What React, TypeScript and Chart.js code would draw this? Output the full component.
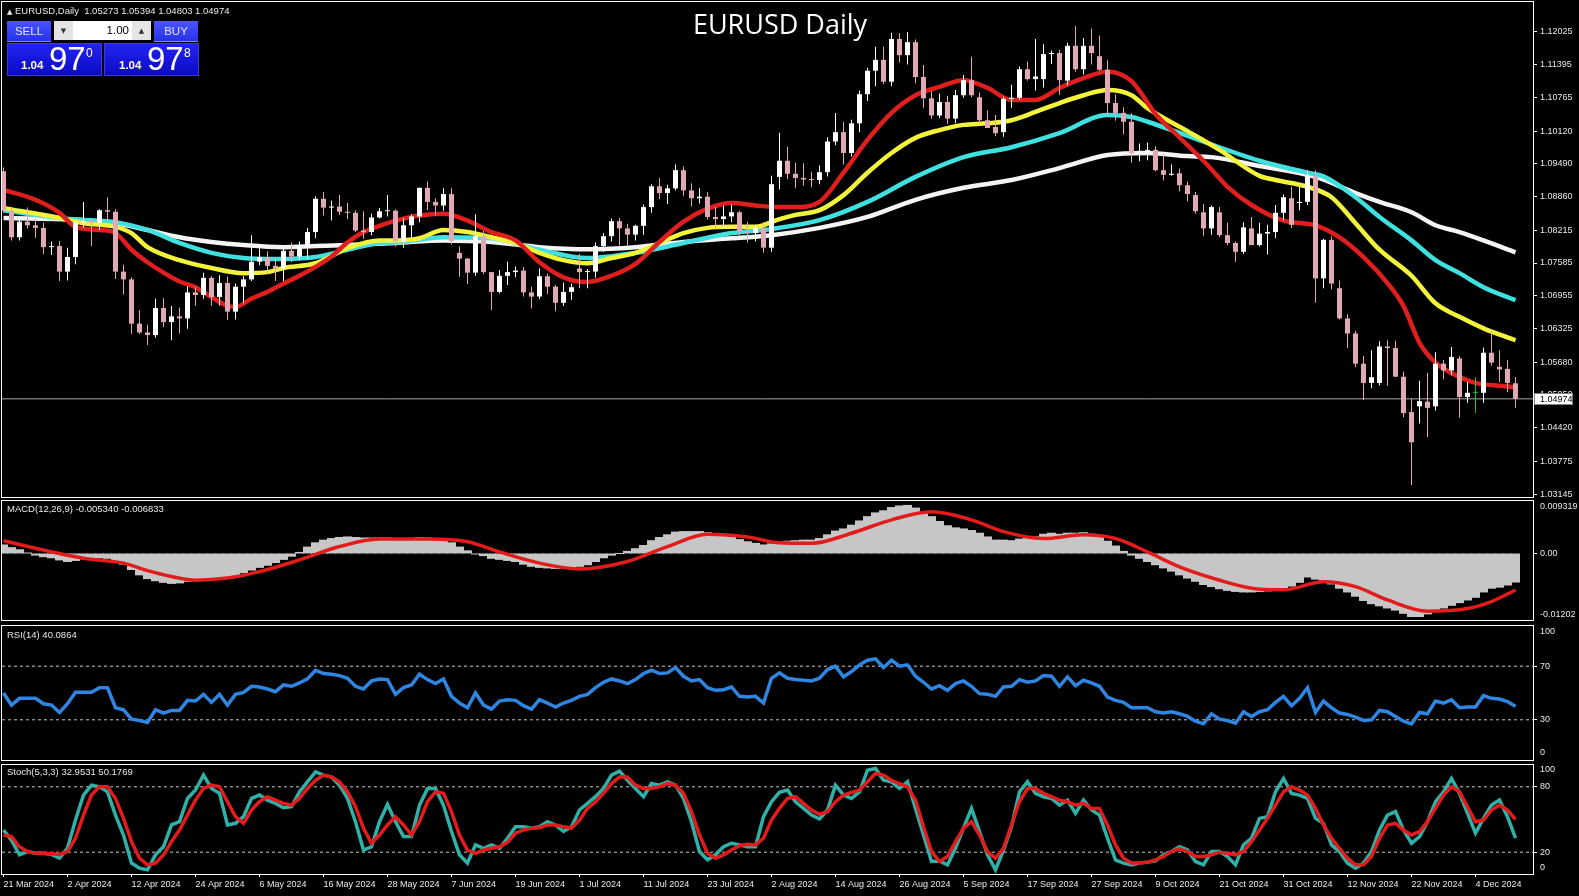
import React, { useEffect, useRef } from 'react';
import { Chart, registerables } from 'chart.js';

Chart.register(...registerables);

// ---------------- DATA ----------------
const opens = [1.0935,1.0859,1.0808,1.0838,1.0831,1.0826,1.0789,1.0791,1.0742,1.0770,
1.0836,1.0838,1.0836,1.0860,1.0857,1.0742,1.0727,1.0642,1.0625,1.0620,
1.0672,1.0645,1.0656,1.0652,1.0702,1.0697,1.0730,1.0693,1.0720,1.0665,
1.0713,1.0727,1.0761,1.0770,1.0753,1.0748,1.0782,1.0771,1.0790,1.0818,
1.0882,1.0865,1.0867,1.0857,1.0855,1.0821,1.0818,1.0846,1.0858,1.0859,
1.0801,1.0831,1.0848,1.0903,1.0876,1.0869,1.0891,1.0778,1.0767,1.0740,
1.0810,1.0741,1.0703,1.0734,1.0741,1.0744,1.0702,1.0694,1.0733,1.0713,
1.0682,1.0703,1.0748,1.0741,1.0742,1.0791,1.0810,1.0839,1.0825,1.0813,
1.0830,1.0866,1.0906,1.0893,1.0902,1.0937,1.0898,1.0883,1.0886,1.0847,
1.0843,1.0848,1.0856,1.0819,1.0816,1.0826,1.0788,1.0924,1.0955,1.0930,
1.0922,1.0919,1.0918,1.0933,1.0992,1.1010,1.0970,1.1027,1.1083,1.1128,
1.1149,1.1107,1.1189,1.1158,1.1183,1.1116,1.1075,1.1042,1.1068,1.1036,
1.1081,1.1110,1.1077,1.1033,1.1020,1.1010,1.1074,1.1076,1.1131,1.1112,
1.1112,1.1160,1.1162,1.1109,1.1176,1.1131,1.1176,1.1156,1.1130,1.1066,
1.1047,1.1030,1.0970,1.0974,1.0976,1.0937,1.0928,1.0931,1.0908,1.0889,
1.0856,1.0825,1.0856,1.0812,1.0797,1.0780,1.0825,1.0793,1.0815,1.0818,
1.0855,1.0883,1.0874,1.0876,1.0925,1.0729,1.0803,1.0710,1.0652,1.0623,
1.0565,1.0528,1.0528,1.0598,1.0595,1.0540,1.0472,1.0483,1.0492,1.0483,
1.0565,1.0552,1.0575,1.0501,1.0509,1.0509,1.0586,1.0559,1.0555,1.05273];

const highs = [1.0942,1.0866,1.0843,1.0865,1.0843,1.0836,1.0800,1.0801,1.0788,1.0840,
1.0876,1.0843,1.0862,1.0885,1.0862,1.0755,1.0731,1.0668,1.0640,1.0690,
1.0691,1.0676,1.0673,1.0714,1.0713,1.0740,1.0733,1.0735,1.0732,1.0719,
1.0733,1.0812,1.0791,1.0781,1.0768,1.0790,1.0798,1.0800,1.0826,1.0887,
1.0895,1.0878,1.0889,1.0874,1.0860,1.0858,1.0853,1.0864,1.0889,1.0862,
1.0845,1.0852,1.0903,1.0915,1.0883,1.0902,1.0902,1.0790,1.0768,1.0852,
1.0820,1.0741,1.0745,1.0761,1.0752,1.0751,1.0713,1.0748,1.0738,1.0716,
1.0721,1.0719,1.0776,1.0747,1.0798,1.0816,1.0844,1.0845,1.0834,1.0832,
1.0871,1.0910,1.0922,1.0909,1.0948,1.0944,1.0912,1.0902,1.0895,1.0866,
1.0869,1.0871,1.0859,1.0838,1.0832,1.0837,1.0926,1.1009,1.0982,1.0951,
1.0950,1.0934,1.0946,1.1000,1.1047,1.1030,1.1034,1.1090,1.1134,1.1174,
1.1174,1.1201,1.1200,1.1202,1.1188,1.1139,1.1089,1.1084,1.1080,1.1091,
1.1120,1.1155,1.1086,1.1052,1.1043,1.1078,1.1101,1.1136,1.1146,1.1189,
1.1179,1.1167,1.1168,1.1182,1.1214,1.1191,1.1209,1.1196,1.1148,1.1083,
1.1058,1.1047,1.0988,1.0990,1.0983,1.0968,1.0948,1.0940,1.0915,1.0895,
1.0872,1.0869,1.0866,1.0836,1.0800,1.0837,1.0847,1.0836,1.0832,1.0870,
1.0890,1.0905,1.0905,1.0937,1.0937,1.0805,1.0810,1.0725,1.0660,1.0628,
1.0580,1.0591,1.0608,1.0610,1.0609,1.0550,1.0497,1.0532,1.0547,1.0587,
1.0572,1.0597,1.0580,1.0530,1.0539,1.0596,1.0630,1.0591,1.0572,1.05394];

const lows = [1.0855,1.0802,1.0802,1.0825,1.0807,1.0776,1.0774,1.0724,1.0725,1.0756,
1.0826,1.0791,1.0822,1.0837,1.0728,1.0698,1.0622,1.0622,1.0601,1.0615,
1.0635,1.0610,1.0623,1.0632,1.0676,1.0690,1.0676,1.0677,1.0649,1.0650,
1.0681,1.0724,1.0754,1.0738,1.0724,1.0724,1.0760,1.0764,1.0767,1.0806,
1.0850,1.0840,1.0851,1.0843,1.0818,1.0805,1.0812,1.0844,1.0848,1.0790,
1.0788,1.0805,1.0837,1.0860,1.0850,1.0859,1.0794,1.0732,1.0718,1.0734,
1.0737,1.0668,1.0700,1.0716,1.0731,1.0694,1.0671,1.0689,1.0699,1.0666,
1.0676,1.0688,1.0710,1.0710,1.0730,1.0780,1.0800,1.0792,1.0792,1.0802,
1.0813,1.0855,1.0881,1.0872,1.0898,1.0888,1.0867,1.0873,1.0842,1.0825,
1.0825,1.0837,1.0811,1.0798,1.0800,1.0778,1.0780,1.0900,1.0920,1.0902,
1.0907,1.0904,1.0910,1.0925,1.0985,1.0948,1.0963,1.1010,1.1070,1.1098,
1.1102,1.1098,1.1144,1.1140,1.1104,1.1057,1.1036,1.1037,1.1026,1.1027,
1.1076,1.1077,1.1026,1.1018,1.1002,1.1001,1.1057,1.1072,1.1109,1.1090,
1.1096,1.1141,1.1082,1.1100,1.1126,1.1121,1.1140,1.1128,1.1040,1.1032,
1.1006,1.0951,1.0954,1.0956,1.0935,1.0917,1.0926,1.0896,1.0877,1.0853,
1.0811,1.0813,1.0808,1.0792,1.0761,1.0776,1.0795,1.0790,1.0775,1.0806,
1.0840,1.0826,1.0860,1.0870,1.0682,1.0710,1.0708,1.0650,1.0595,1.0558,
1.0495,1.0518,1.0523,1.0522,1.0540,1.0462,1.0332,1.0450,1.0424,1.0475,
1.0535,1.0543,1.0461,1.0490,1.0470,1.0490,1.0561,1.0530,1.0510,1.04803];

const closes = [1.0859,1.0808,1.0838,1.0831,1.0826,1.0789,1.0791,1.0742,1.0770,1.0836,
1.0838,1.0836,1.0860,1.0857,1.0742,1.0727,1.0642,1.0625,1.0620,1.0672,
1.0645,1.0656,1.0652,1.0702,1.0697,1.0730,1.0693,1.0720,1.0665,1.0713,
1.0727,1.0761,1.0770,1.0753,1.0748,1.0782,1.0771,1.0790,1.0818,1.0882,
1.0865,1.0867,1.0857,1.0855,1.0821,1.0818,1.0846,1.0858,1.0859,1.0801,
1.0831,1.0848,1.0903,1.0876,1.0869,1.0891,1.0801,1.0767,1.0740,1.0810,
1.0741,1.0703,1.0734,1.0741,1.0744,1.0702,1.0694,1.0733,1.0713,1.0682,
1.0703,1.0712,1.0741,1.0742,1.0791,1.0810,1.0839,1.0825,1.0813,1.0830,
1.0866,1.0906,1.0893,1.0902,1.0937,1.0898,1.0883,1.0886,1.0847,1.0843,
1.0848,1.0856,1.0819,1.0816,1.0826,1.0788,1.0910,1.0955,1.0930,1.0922,
1.0919,1.0918,1.0933,1.0992,1.1010,1.0970,1.1027,1.1083,1.1128,1.1149,
1.1107,1.1189,1.1158,1.1183,1.1116,1.1075,1.1042,1.1068,1.1036,1.1081,
1.1110,1.1081,1.1033,1.1018,1.1008,1.1074,1.1076,1.1131,1.1112,1.1117,
1.1160,1.1162,1.1110,1.1176,1.1131,1.1176,1.1162,1.1130,1.1066,1.1047,
1.1030,1.0970,1.0974,1.0976,1.0937,1.0928,1.0930,1.0908,1.0891,1.0858,
1.0825,1.0866,1.0812,1.0797,1.0780,1.0827,1.0793,1.0815,1.0818,1.0855,
1.0885,1.0832,1.0876,1.0925,1.0729,1.0803,1.0719,1.0652,1.0623,1.0565,
1.0528,1.0539,1.0598,1.0595,1.0540,1.0470,1.0414,1.0493,1.0480,1.0565,
1.0552,1.0578,1.0501,1.0509,1.0509,1.0586,1.0567,1.0554,1.0528,1.04974];

const xTickIdx = [0,8,16,24,32,40,48,56,64,72,80,88,96,104,112,120,128,136,144,152,160,168,176,184];
const xTickLabels = ['21 Mar 2024','2 Apr 2024','12 Apr 2024','24 Apr 2024','6 May 2024','16 May 2024',
'28 May 2024','7 Jun 2024','19 Jun 2024','1 Jul 2024','11 Jul 2024','23 Jul 2024','2 Aug 2024',
'14 Aug 2024','26 Aug 2024','5 Sep 2024','17 Sep 2024','27 Sep 2024','9 Oct 2024','21 Oct 2024',
'31 Oct 2024','12 Nov 2024','22 Nov 2024','4 Dec 2024'];

const priceTicks = [1.12025,1.11395,1.10765,1.10120,1.09490,1.08860,1.08215,1.07585,1.06955,1.06325,1.05680,1.05050,1.04420,1.03775,1.03145];

const maRedIdx = [0,4,7,9,12,14,16,18,20,22,24,26,28,29,31,33,35,37,39,41,43,45,47,49,52,55,58,61,64,67,70,73,76,79,82,85,88,91,94,97,99,102,105,108,111,114,117,120,123,126,129,132,135,138,141,144,147,150,153,156,160,164,167,170,173,175,177,179,181,184,186,189];
const maRed = [1.0899,1.0880,1.0855,1.0828,1.0822,1.0816,1.0784,1.0760,1.0740,1.0723,1.0712,1.0693,1.0676,1.0674,1.0690,1.0703,1.0719,1.0734,1.0751,1.0771,1.0798,1.0818,1.0830,1.0840,1.0850,1.0853,1.0840,1.0818,1.0802,1.0760,1.0731,1.0722,1.0734,1.0757,1.0799,1.0838,1.0863,1.0874,1.0869,1.0866,1.0866,1.0876,1.0932,1.0995,1.1047,1.1081,1.1097,1.1110,1.1095,1.1072,1.1072,1.1095,1.1114,1.1126,1.1108,1.1045,1.1000,1.0955,1.0905,1.0870,1.0840,1.0831,1.0808,1.0770,1.0720,1.0676,1.0605,1.0567,1.0547,1.0528,1.0524,1.0520];

const maYellowIdx = [0,7,10,14,16,18,22,26,30,33,35,39,43,47,49,52,55,58,61,64,67,70,73,76,79,82,85,88,91,94,97,99,102,105,108,111,114,117,120,123,126,129,132,135,138,141,143,148,152,157,159,163,166,169,172,176,179,182,185,189];
const maYellow = [1.0864,1.0845,1.0835,1.0828,1.0816,1.0789,1.0764,1.0749,1.0739,1.0741,1.0749,1.0758,1.0787,1.0802,1.0802,1.0806,1.0822,1.0818,1.0808,1.0797,1.0778,1.0764,1.0758,1.0768,1.0778,1.0797,1.0816,1.0826,1.0828,1.0828,1.0843,1.0851,1.0860,1.0889,1.0932,1.0970,1.0999,1.1014,1.1024,1.1027,1.1033,1.1049,1.1066,1.1081,1.1091,1.1081,1.1056,1.1012,1.0976,1.0926,1.0918,1.0905,1.0885,1.0835,1.0784,1.0734,1.0681,1.0655,1.0633,1.0610];

const maCyanIdx = [0,7,10,14,18,22,26,30,34,39,43,47,49,55,61,67,73,79,85,91,96,102,108,114,120,126,132,138,141,143,148,157,163,165,169,172,176,179,182,185,189];
const maCyan = [1.0860,1.0845,1.0841,1.0837,1.0822,1.0797,1.0778,1.0768,1.0766,1.0770,1.0784,1.0797,1.0798,1.0808,1.0806,1.0784,1.0768,1.0778,1.0797,1.0816,1.0824,1.0841,1.0876,1.0924,1.0962,1.0981,1.1008,1.1043,1.1039,1.1030,1.1003,1.0955,1.0932,1.0925,1.0885,1.0847,1.0802,1.0764,1.0739,1.0712,1.0687];

const maWhiteIdx = [0,10,14,18,22,26,30,35,39,43,49,55,61,67,73,79,85,91,96,102,108,114,120,126,132,138,143,148,151,157,164,169,172,176,179,182,185,189];
const maWhite = [1.0845,1.0841,1.0835,1.0822,1.0808,1.0799,1.0793,1.0789,1.0791,1.0793,1.0797,1.0802,1.0799,1.0789,1.0785,1.0789,1.0799,1.0806,1.0812,1.0826,1.0847,1.0880,1.0903,1.0918,1.0941,1.0966,1.0970,1.0964,1.0962,1.0945,1.0924,1.0893,1.0876,1.0856,1.0831,1.0818,1.0802,1.0779];

const macdMain = [0.0016,0.0011,0.0007,0.0001,-0.0003,-0.0006,-0.0008,-0.0012,-0.0015,-0.0013,
-0.0010,-0.0009,-0.0008,-0.0009,-0.0014,-0.0020,-0.0030,-0.0040,-0.0047,-0.0051,
-0.0054,-0.0056,-0.0055,-0.0052,-0.0050,-0.0048,-0.0048,-0.0046,-0.0046,-0.0041,
-0.0036,-0.0031,-0.0026,-0.0022,-0.0017,-0.0011,-0.0005,0.0002,0.0012,0.0020,
0.0025,0.0028,0.0030,0.0031,0.0030,0.0029,0.0029,0.0029,0.0029,0.0026,
0.0026,0.0028,0.0030,0.0029,0.0028,0.0027,0.0020,0.0012,0.0005,-0.0001,
-0.0004,-0.0009,-0.0011,-0.0013,-0.0015,-0.0020,-0.0024,-0.0026,-0.0027,-0.0028,
-0.0027,-0.0026,-0.0024,-0.0021,-0.0015,-0.0008,-0.0003,0.0000,0.0004,0.0009,
0.0015,0.0024,0.0030,0.0035,0.0040,0.0041,0.0041,0.0041,0.0039,0.0036,
0.0033,0.0030,0.0026,0.0022,0.0019,0.0016,0.0018,0.0022,0.0023,0.0024,
0.0025,0.0025,0.0028,0.0035,0.0042,0.0046,0.0053,0.0061,0.0069,0.0076,
0.0080,0.0086,0.0089,0.0090,0.0085,0.0078,0.0069,0.0060,0.0052,0.0048,
0.0046,0.0043,0.0038,0.0031,0.0025,0.0025,0.0024,0.0027,0.0029,0.0031,
0.0036,0.0038,0.0036,0.0038,0.0038,0.0039,0.0036,0.0030,0.0023,0.0014,
0.0004,-0.0003,-0.0009,-0.0015,-0.0021,-0.0027,-0.0033,-0.0040,-0.0046,-0.0052,
-0.0058,-0.0062,-0.0066,-0.0069,-0.0071,-0.0072,-0.0072,-0.0071,-0.0070,-0.0068,
-0.0064,-0.0061,-0.0054,-0.0044,-0.0048,-0.0051,-0.0057,-0.0065,-0.0072,-0.0080,
-0.0088,-0.0094,-0.0098,-0.0102,-0.0106,-0.0112,-0.0118,-0.0118,-0.0113,-0.0106,
-0.0102,-0.0097,-0.0092,-0.0087,-0.0082,-0.0072,-0.0065,-0.0063,-0.0059,-0.00534];

const macdSignalIdx = [0,6,10,15,18,21,24,28,32,37,42,47,53,58,62,67,72,78,83,88,93,97,101,106,111,116,121,125,130,135,139,143,147,152,156,160,165,169,173,178,183,186,189];
const macdSignal = [0.0024,0.0003,-0.0009,-0.0018,-0.0032,-0.0043,-0.0050,-0.0046,-0.0034,-0.0012,0.0013,0.0027,0.0027,0.0022,0.0003,-0.0018,-0.0029,-0.0015,0.0013,0.0036,0.0031,0.0020,0.0019,0.0038,0.0063,0.0078,0.0063,0.0041,0.0028,0.0035,0.0028,0.0003,-0.0025,-0.0050,-0.0065,-0.0068,-0.0053,-0.0062,-0.0087,-0.0108,-0.0103,-0.0090,-0.006833];

const rsi = [50,41,46,46,46,42,41,35.5,42,50.5,
50.5,50.5,54,54,39,37.5,30.5,29.5,28,37.5,
35,37,37,44.5,44,49,43,49,41,49,
50.5,55,54.5,53,51,56,55,57.5,60.5,67,
64.5,64,63,61,55,53,59,60.5,60,49,
54,56,64,60,57,60.5,47.5,42.5,39,50,
41,38,44,45,44.5,40.5,38,45,42.5,39.5,
42.5,44.5,47.5,49,54,58,60.5,59,57,60,
64.5,67,64.5,65,69,62.5,59,60,54,52,
52.5,54.5,47.5,47,47.5,42.5,61,65,61,60,
59.5,59,61,67.5,70,62,66,71,74.5,75.5,
69,74.5,70,71,62.5,58,53,55.5,52,57,
59,55,49.5,49,47.5,54.5,55,60,58,59,
63,62.5,55,62,55.5,59.5,57.5,55,47,44.5,
43,39,39,39,36,35,36,34.5,32.5,29,
27,34.5,30.5,29.5,27.5,36,32.5,36,37.5,43,
47.5,40.5,46,54,35.5,44,39,35,34,32,
29.5,30,37,36,32.5,29,27,35.5,34.5,44,
42.5,45,39,39.5,39.5,48,46,45.5,43.5,40.0864];

const stochK = [40.4,31,17.6,20.6,19,19,18,14.5,23.6,49.5,
72.4,81.5,80,75.4,54,35.8,10,5.4,3.8,17.6,
25,45,48,69.3,77,90.7,78.5,74,45,46.5,
52.6,69.3,72.4,67.8,64.8,60.8,61.7,75.4,84.6,93.7,
90.7,89,81.5,69.3,48,22,25,48,63.9,48,
34.3,34.3,63,78.5,78.5,63,39,17.6,10,26.7,
23.6,26.7,23.6,32.8,43.4,43.4,42,43.4,48,45,
39,43.4,58.7,64.8,70.9,78.5,90.7,94.3,86,78.5,
70.9,83,81.5,84.6,81.5,69.3,48,20.6,13,17.6,
25,28.2,26.7,25,25,52.6,66.3,75,77,66.3,
60.2,54,50.5,58.7,81.5,72.4,69.3,75.4,95.2,96.8,
86,84.6,78.5,84.6,60.2,35.8,11.5,12,8.4,23.6,
42,60.2,39,17.6,3.8,22,43.4,75.4,84.6,74,
70.9,69.3,63.2,67.8,55.6,67.8,58.7,54,32.8,13,
10,8.4,10,10.9,12,17.6,20.6,25,22,11.5,
8.4,20.6,20.6,16,8.4,26.7,32.8,51,52.6,75.4,
87.6,74,72.4,69.3,51,46.5,26.7,20.6,10,5.4,
10,20.6,40.4,54,57.2,40.4,28.2,34.3,48,66.3,
75.4,87.6,74,55.6,37.4,51,63.2,67.8,52.6,32.9531];

const stochD = [35.8,34.3,25,20.6,19,18.8,18.5,18,20.6,32.8,
54,72.4,80,80,69.3,51,29.7,14.5,8.4,10,
17.6,29.7,40.4,54,67.8,78.5,81.5,80,66.3,52.6,
46.5,58.7,66.3,70.9,67.8,64.8,63.2,69.3,78.5,86,
90.7,89,84.6,75.4,61.7,42,28.2,35.8,45,52.6,
45,35.8,48,66.3,75.4,74,57.2,35.8,22,19,
22,23.6,25,29,37.4,40.4,42,42.5,45,45,
43.4,42,49.5,60.2,66.3,74,83,89,89,81.5,
78.5,78.5,80,83,81.5,74,57.2,35.8,19,14.5,
17.6,22,26,27.3,26.7,32.8,49.5,60.2,69.3,70.9,
64.8,58.7,54.7,57.2,66.3,72.4,74.8,77,84.6,92.2,
90.7,86,83,80,67.8,43.4,20.6,11.5,16,29.7,
42,48,35.8,20.6,14.5,23.6,45,66.3,78.5,78.5,
74,70.9,67.8,66.3,63.2,64.8,60.2,60.2,45,26.7,
14.5,10,10,10.9,13,16,20.6,23,20.6,16,
16,17.6,20,19,17.6,20.6,29.7,40.4,51,63.2,
75.4,80,77,72.4,60.2,45,32.8,23.6,14.5,8.4,
8.4,16,32.8,45,46.5,40.4,35.8,38.9,48,60.2,
72.4,80,75.4,61.7,48,49.5,58.7,63.2,58.7,50.1769];

const rsiLevels = [70, 30];
const stochLevels = [80, 20];

// ---------------- STYLE ----------------
const TEXT = '#e8e8e8';
const FONT = 'Liberation Sans';
const BULL = '#ffffff';
const BEAR = '#dfaab5';
const DOJI = '#22c022';
const X_MIN = -0.1875;
const X_MAX = 191.1875;
const AXIS_W = 46;

const pts = (idx: number[], vals: number[]) => idx.map((x, k) => ({ x, y: vals[k] }));
const seq = (vals: number[]) => vals.map((y, x) => ({ x, y }));
const hline = (v: number) => [{ x: X_MIN, y: v }, { x: X_MAX, y: v }];

const candleColors = closes.map((c, i) => (c > opens[i] ? BULL : c < opens[i] ? BEAR : DOJI));

const framePlugin = {
  id: 'frame',
  afterDraw(chart: any) {
    const { ctx, chartArea: a } = chart;
    ctx.save();
    ctx.strokeStyle = '#ffffff';
    ctx.lineWidth = 1;
    ctx.strokeRect(Math.round(a.left) - 0.5, Math.round(a.top) - 0.5, Math.round(a.right - a.left) + 1, Math.round(a.bottom - a.top) + 1);
    ctx.restore();
  },
};

const edgeLabels = {
  id: 'edgeLabels',
  afterDraw(chart: any, _args: any, opts: any) {
    if (!opts || !opts.top) return;
    const { ctx, chartArea: a } = chart;
    ctx.save();
    ctx.font = `9px "${FONT}"`;
    ctx.fillStyle = TEXT;
    ctx.textAlign = 'left';
    ctx.textBaseline = 'middle';
    ctx.fillText(opts.top, a.right + 7, a.top + opts.dTop);
    ctx.fillText(opts.bottom, a.right + 7, a.bottom - opts.dBottom);
    ctx.restore();
  },
};

const priceTag = {
  id: 'priceTag',
  afterDraw(chart: any, _args: any, opts: any) {
    if (!opts || opts.value === undefined) return;
    const { ctx, chartArea: a } = chart;
    const y = Math.round(chart.scales.y.getPixelForValue(opts.value));
    ctx.save();
    ctx.fillStyle = '#ffffff';
    ctx.fillRect(a.right + 1, y - 5, 39, 11);
    ctx.strokeStyle = '#808080';
    ctx.lineWidth = 1;
    ctx.strokeRect(a.right + 1.5, y - 5.5, 38, 11);
    ctx.fillStyle = '#000000';
    ctx.font = `9px "${FONT}"`;
    ctx.textAlign = 'left';
    ctx.textBaseline = 'middle';
    ctx.fillText(opts.label, a.right + 7, y + 0.5);
    ctx.restore();
  },
};

const xScale = (show: boolean) => ({
  type: 'linear',
  min: X_MIN,
  max: X_MAX,
  offset: false,
  bounds: 'ticks',
  display: show,
  afterBuildTicks: (s: any) => { s.ticks = xTickIdx.map((value) => ({ value })); },
  afterFit: (s: any) => { if (show) { s.height = 22; } s.paddingLeft = 0; s.paddingRight = 0; },
  ticks: {
    callback: (v: any) => { const k = xTickIdx.indexOf(Number(v)); return k >= 0 ? xTickLabels[k] : ''; },
    align: 'start', maxRotation: 0, minRotation: 0, autoSkip: false,
    color: TEXT, font: { family: FONT, size: 9 }, padding: 2,
  },
  grid: { offset: false, drawOnChartArea: false, drawTicks: true, tickLength: 3, tickColor: '#ffffff', color: '#ffffff' },
  border: { display: false },
});

const yScale = (min: number, max: number, ticks: number[], fmt: (v: number) => string) => ({
  type: 'linear',
  position: 'right',
  min, max,
  afterBuildTicks: (s: any) => { s.ticks = ticks.map((value) => ({ value })); },
  afterFit: (s: any) => { s.width = AXIS_W; s.paddingTop = 0; s.paddingBottom = 0; },
  ticks: { callback: (v: any) => fmt(Number(v)), color: TEXT, font: { family: FONT, size: 9 }, padding: 3, autoSkip: false },
  grid: { drawOnChartArea: false, drawTicks: true, tickLength: 4, tickColor: '#ffffff', color: '#ffffff' },
  border: { display: false },
});

const baseOptions = (top: number, bottom: number, y: any, showX: boolean, plugins: any) => ({
  responsive: false,
  animation: false,
  devicePixelRatio: 1,
  events: [],
  layout: { padding: { left: 2, right: 0, top, bottom } },
  plugins: { legend: { display: false }, tooltip: { enabled: false }, title: { display: false }, ...plugins },
  scales: { x: xScale(showX), y },
});

const lineDs = (data: any[], color: string, width: number, order: number, extra: any = {}) => ({
  type: 'line', data, borderColor: color, backgroundColor: color, borderWidth: width,
  pointRadius: 0, fill: false, order, clip: 0, ...extra,
});

function mainConfig(): any {
  const last = closes[closes.length - 1];
  return {
    type: 'bar',
    data: {
      datasets: [
        lineDs(hline(last), '#a8a8a8', 1, 9, { tension: 0 }),
        lineDs(pts(maWhiteIdx, maWhite), '#f4f4f4', 4.5, 8, { cubicInterpolationMode: 'monotone' }),
        lineDs(pts(maCyanIdx, maCyan), '#3fe0e0', 4.5, 7, { cubicInterpolationMode: 'monotone' }),
        lineDs(pts(maYellowIdx, maYellow), '#f3f33a', 4.5, 6, { cubicInterpolationMode: 'monotone' }),
        lineDs(pts(maRedIdx, maRed), '#e01e1e', 4.5, 5, { cubicInterpolationMode: 'monotone' }),
        {
          type: 'bar', data: lows.map((l, i) => ({ x: i, y: [l, highs[i]] })),
          backgroundColor: candleColors, barThickness: 1, grouped: false, minBarLength: 1,
          borderWidth: 0, inflateAmount: 0, order: 1,
        },
        {
          type: 'bar', data: opens.map((o, i) => ({ x: i, y: [o, closes[i]] })),
          backgroundColor: candleColors, barThickness: 5, grouped: false, minBarLength: 1,
          borderWidth: 0, inflateAmount: 0, order: 0,
        },
      ],
    },
    options: baseOptions(2, 2, yScale(1.030877, 1.126016, priceTicks, (v) => v.toFixed(5)), false, {
      priceTag: { value: last, label: last.toFixed(5) },
    }),
    plugins: [framePlugin, priceTag],
  };
}

function macdConfig(): any {
  return {
    type: 'bar',
    data: {
      datasets: [
        lineDs(pts(macdSignalIdx, macdSignal), '#e41b1b', 3.5, 0, { cubicInterpolationMode: 'monotone' }),
        {
          type: 'bar', data: seq(macdMain), backgroundColor: '#c6c6c6', barThickness: 8,
          grouped: false, borderWidth: 0, inflateAmount: 0.5, order: 1,
        },
      ],
    },
    options: baseOptions(2, 3, yScale(-0.01245, 0.00983, [0], () => '0.00'), false, {
      edgeLabels: { top: '0.009319', bottom: '-0.01202', dTop: 6, dBottom: 5 },
    }),
    plugins: [framePlugin, edgeLabels],
  };
}

function rsiConfig(): any {
  return {
    type: 'line',
    data: {
      datasets: [
        ...rsiLevels.map((v) => lineDs(hline(v), '#c8c8c8', 1, 5, { borderDash: [3, 3] })),
        lineDs(seq(rsi), '#2f86e2', 3.5, 0, { tension: 0 }),
      ],
    },
    options: baseOptions(3, 2, yScale(0, 100, rsiLevels, (v) => String(v)), false, {
      edgeLabels: { top: '100', bottom: '0', dTop: 6, dBottom: 7 },
    }),
    plugins: [framePlugin, edgeLabels],
  };
}

function stochConfig(): any {
  return {
    type: 'line',
    data: {
      datasets: [
        ...stochLevels.map((v) => lineDs(hline(v), '#c8c8c8', 1, 5, { borderDash: [3, 3] })),
        lineDs(seq(stochK), '#2fb1a8', 3.5, 1, { tension: 0 }),
        lineDs(seq(stochD), '#e41b1b', 3.5, 0, { tension: 0 }),
      ],
    },
    options: baseOptions(3, 0, yScale(0, 100, stochLevels, (v) => String(v)), true, {
      edgeLabels: { top: '100', bottom: '0', dTop: 5, dBottom: 6 },
    }),
    plugins: [framePlugin, edgeLabels],
  };
}

const labelStyle: React.CSSProperties = {
  position: 'absolute', left: 7, color: TEXT, fontSize: 9.5, fontFamily: `"${FONT}", Arial, sans-serif`,
  lineHeight: '11px', whiteSpace: 'pre',
};

export default function App() {
  const mainRef = useRef<HTMLCanvasElement>(null);
  const macdRef = useRef<HTMLCanvasElement>(null);
  const rsiRef = useRef<HTMLCanvasElement>(null);
  const stochRef = useRef<HTMLCanvasElement>(null);

  useEffect(() => {
    document.body.style.margin = '0';
    document.body.style.background = '#000';
    const charts: Chart[] = [];
    if (mainRef.current) charts.push(new Chart(mainRef.current, mainConfig()));
    if (macdRef.current) charts.push(new Chart(macdRef.current, macdConfig()));
    if (rsiRef.current) charts.push(new Chart(rsiRef.current, rsiConfig()));
    if (stochRef.current) charts.push(new Chart(stochRef.current, stochConfig()));
    return () => charts.forEach((c) => c.destroy());
  }, []);

  const cv = (top: number, h: number): React.CSSProperties => ({ position: 'absolute', left: 0, top, width: 1579, height: h });
  const blueBtn: React.CSSProperties = {
    position: 'absolute', top: 21, height: 21, background: 'linear-gradient(#4a55ff, #2630e8)',
    color: '#dfe4ff', fontSize: 11.5, fontFamily: `"${FONT}", Arial, sans-serif`, display: 'flex',
    alignItems: 'center', justifyContent: 'center', borderBottom: '1px solid #7f88ff', boxSizing: 'border-box',
  };
  const priceBox: React.CSSProperties = {
    position: 'absolute', top: 43, width: 95, height: 33,
    background: 'linear-gradient(#2323f2, #0b0bc4)', boxSizing: 'border-box', border: '1px solid #3b3bd8',
    color: '#ffffff', fontFamily: `"${FONT}", Arial, sans-serif`,
  };

  return (
    <div style={{ position: 'relative', width: 1579, height: 896, background: '#000', overflow: 'hidden' }}>
      <canvas ref={mainRef} width={1579} height={499} style={cv(0, 499)} />
      <canvas ref={macdRef} width={1579} height={124} style={cv(499, 124)} />
      <canvas ref={rsiRef} width={1579} height={139} style={cv(623, 139)} />
      <canvas ref={stochRef} width={1579} height={134} style={cv(762, 134)} />

      <div style={{ ...labelStyle, top: 5 }}>
        <span style={{ fontSize: 7, fontFamily: '"DejaVu Sans", sans-serif' }}>▲</span>
        {' EURUSD,Daily  1.05273 1.05394 1.04803 1.04974'}
      </div>
      <div style={{
        position: 'absolute', left: 0, width: 1560, top: 8, textAlign: 'center', color: '#ffffff',
        fontSize: 27, fontFamily: '"Open Sans", sans-serif', lineHeight: '32px',
      }}>EURUSD Daily</div>

      <div style={{ ...blueBtn, left: 7, width: 44 }}>SELL</div>
      <div style={{ ...blueBtn, left: 154, width: 44 }}>BUY</div>
      <div style={{ position: 'absolute', left: 54, top: 21, width: 19, height: 19, background: '#e4e4e4', color: '#333', fontSize: 7, display: 'flex', alignItems: 'center', justifyContent: 'center', fontFamily: '"DejaVu Sans", sans-serif' }}>▼</div>
      <div style={{ position: 'absolute', left: 73, top: 21, width: 59, height: 19, background: '#ffffff', color: '#000', fontSize: 11.5, textAlign: 'right', lineHeight: '19px', paddingRight: 3, boxSizing: 'border-box', fontFamily: `"${FONT}", Arial, sans-serif` }}>1.00</div>
      <div style={{ position: 'absolute', left: 132, top: 21, width: 19, height: 19, background: '#e4e4e4', color: '#333', fontSize: 7, display: 'flex', alignItems: 'center', justifyContent: 'center', fontFamily: '"DejaVu Sans", sans-serif' }}>▲</div>

      <div style={{ ...priceBox, left: 7 }}>
        <span style={{ position: 'absolute', left: 13, top: 15, fontSize: 11.5, fontWeight: 'bold' }}>1.04</span>
        <span style={{ position: 'absolute', left: 41, top: -3, fontSize: 33, lineHeight: '36px' }}>97</span>
        <span style={{ position: 'absolute', left: 78, top: 2, fontSize: 12 }}>0</span>
      </div>
      <div style={{ ...priceBox, left: 104 }}>
        <span style={{ position: 'absolute', left: 14, top: 15, fontSize: 11.5, fontWeight: 'bold' }}>1.04</span>
        <span style={{ position: 'absolute', left: 42, top: -3, fontSize: 33, lineHeight: '36px' }}>97</span>
        <span style={{ position: 'absolute', left: 79, top: 2, fontSize: 12 }}>8</span>
      </div>

      <div style={{ ...labelStyle, top: 503 }}>MACD(12,26,9) -0.005340 -0.006833</div>
      <div style={{ ...labelStyle, top: 629 }}>RSI(14) 40.0864</div>
      <div style={{ ...labelStyle, top: 766 }}>Stoch(5,3,3) 32.9531 50.1769</div>
    </div>
  );
}
